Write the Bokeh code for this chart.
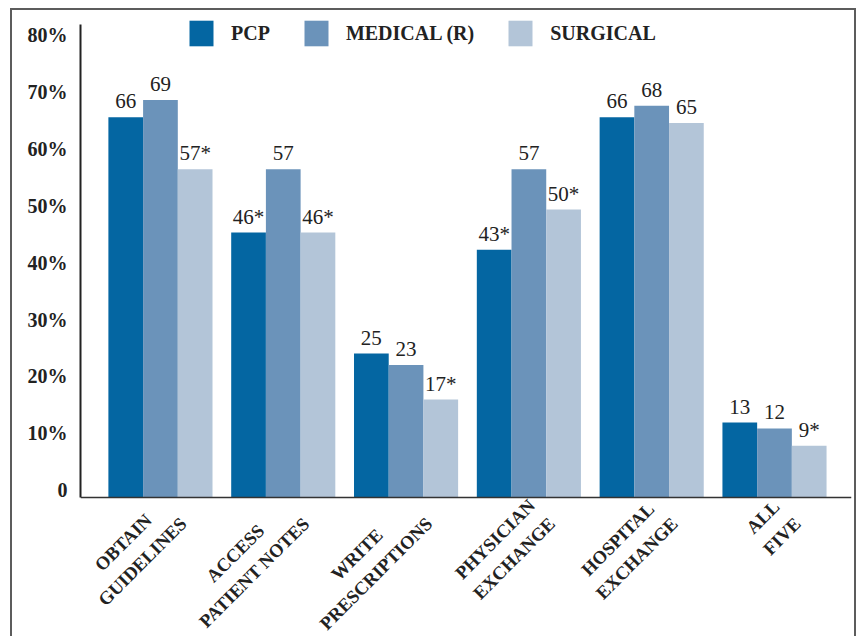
import numpy as np
from bokeh.plotting import figure
from bokeh.models import (ColumnDataSource, Range1d, FixedTicker, LinearAxis,
                          Legend, LegendItem, LabelSet, Label, Span)
from bokeh.transform import dodge
from bokeh.embed import file_html
from bokeh.resources import INLINE
from bokeh.core.properties import value

# ---------------- data ----------------
categories = ["Obtain\nGuidelines", "Access\nPatient Notes", "Write\nPrescriptions",
              "Physician\nExchange", "Hospital\nExchange", "All\nFive"]
series = ["PCP", "Medical (R)", "Surgical"]
pcp = [66, 46, 25, 43, 66, 13]
medical = [69, 57, 23, 57, 68, 12]
surgical = [57, 46, 17, 50, 65, 9]
pcp_sig = [False, True, False, True, False, False]
medical_sig = [False, False, False, False, False, False]
surgical_sig = [True, True, True, True, False, True]
y_ticks = [0, 10, 20, 30, 40, 50, 60, 70, 80]
y_tick_labels = ["0", "10%", "20%", "30%", "40%", "50%", "60%", "70%", "80%"]

colors = ["#0466A2", "#6B93BA", "#B3C5D8"]
FONT = "Liberation Serif"
TXT = "#222222"


def lab(vals, sig):
    return [f"{v}*" if s else f"{v}" for v, s in zip(vals, sig)]


idx = list(range(len(categories)))
src = ColumnDataSource(dict(
    idx=idx, pcp=pcp, medical=medical, surgical=surgical,
    pcp_lab=lab(pcp, pcp_sig), medical_lab=lab(medical, medical_sig),
    surgical_lab=lab(surgical, surgical_sig)))

# the plot frame runs from the top of the canvas to its bottom; the area below y=0
# holds the rotated category names
p = figure(width=846, height=628,
           x_range=Range1d(-0.651, 5.627), y_range=Range1d(-24.48, 84.55),
           output_backend="svg", toolbar_location=None,
           x_axis_location=None, y_axis_location=None,
           min_border_left=68, min_border_right=7,
           min_border_top=0, min_border_bottom=0)
p.styles = {"border-top": "2px solid #5c5c5c", "border-left": "2px solid #5c5c5c",
            "border-right": "2px solid #5c5c5c", "margin-left": "10px", "margin-top": "8px"}
p.outline_line_color = None
p.xgrid.grid_line_color = None
p.ygrid.grid_line_color = None
p.background_fill_color = "white"
p.border_fill_color = "white"

bw = 0.2826
offsets = [-bw, 0.0, bw]
fields = ["pcp", "medical", "surgical"]
renderers = []
for f, off, col in zip(fields, offsets, colors):
    r = p.vbar(x=dodge("idx", off, range=p.x_range), top=f, bottom=0, width=bw, source=src,
               fill_color=col, line_color=None)
    renderers.append(r)
    p.add_layout(LabelSet(x=dodge("idx", off, range=p.x_range), y=f, text=f + "_lab",
                          source=src, text_align="center", text_baseline="alphabetic",
                          y_offset=9, text_font=value(FONT), text_font_size="21px",
                          text_color=TXT))

# baseline
p.add_layout(Span(location=0, dimension="width", line_color="#333333", line_width=1.5))

# rotated category names, top-right corner anchored just under the baseline
for i, c in zip(idx, categories):
    p.add_layout(Label(x=i, y=0, text=c.upper(), angle=np.pi / 4, anchor="top_right",
                       text_align="center", x_offset=-3, y_offset=3,
                       text_font=FONT, text_font_size="18.5px", text_font_style="bold",
                       text_color=TXT, text_line_height=1.35))

# y axis on its own range (tick labels sit slightly above the bar scale)
p.extra_y_ranges = {"lab": Range1d(-26.14, 84.40)}
yax = LinearAxis(y_range_name="lab", ticker=FixedTicker(ticks=y_ticks),
                 major_label_overrides={t: l for t, l in zip(y_ticks, y_tick_labels)},
                 bounds=(-1.32, 81.94))
yax.axis_line_color = "#222222"
yax.axis_line_width = 2
yax.major_tick_line_color = None
yax.minor_tick_line_color = None
yax.major_label_standoff = 7
yax.major_label_text_font = FONT
yax.major_label_text_font_size = "20px"
yax.major_label_text_font_style = "bold"
yax.major_label_text_color = TXT
p.add_layout(yax, "left")

legend = Legend(items=[LegendItem(label=s.upper(), renderers=[r]) for s, r in zip(series, renderers)],
                orientation="horizontal", location=(106, 589),
                glyph_width=30, glyph_height=32, label_standoff=15, spacing=31,
                padding=0, margin=0, border_line_color=None, background_fill_alpha=0,
                label_text_font=FONT, label_text_font_size="20px",
                label_text_font_style="bold", label_text_color=TXT)
p.add_layout(legend, "center")

open("out.html", "w").write(file_html(p, INLINE))
